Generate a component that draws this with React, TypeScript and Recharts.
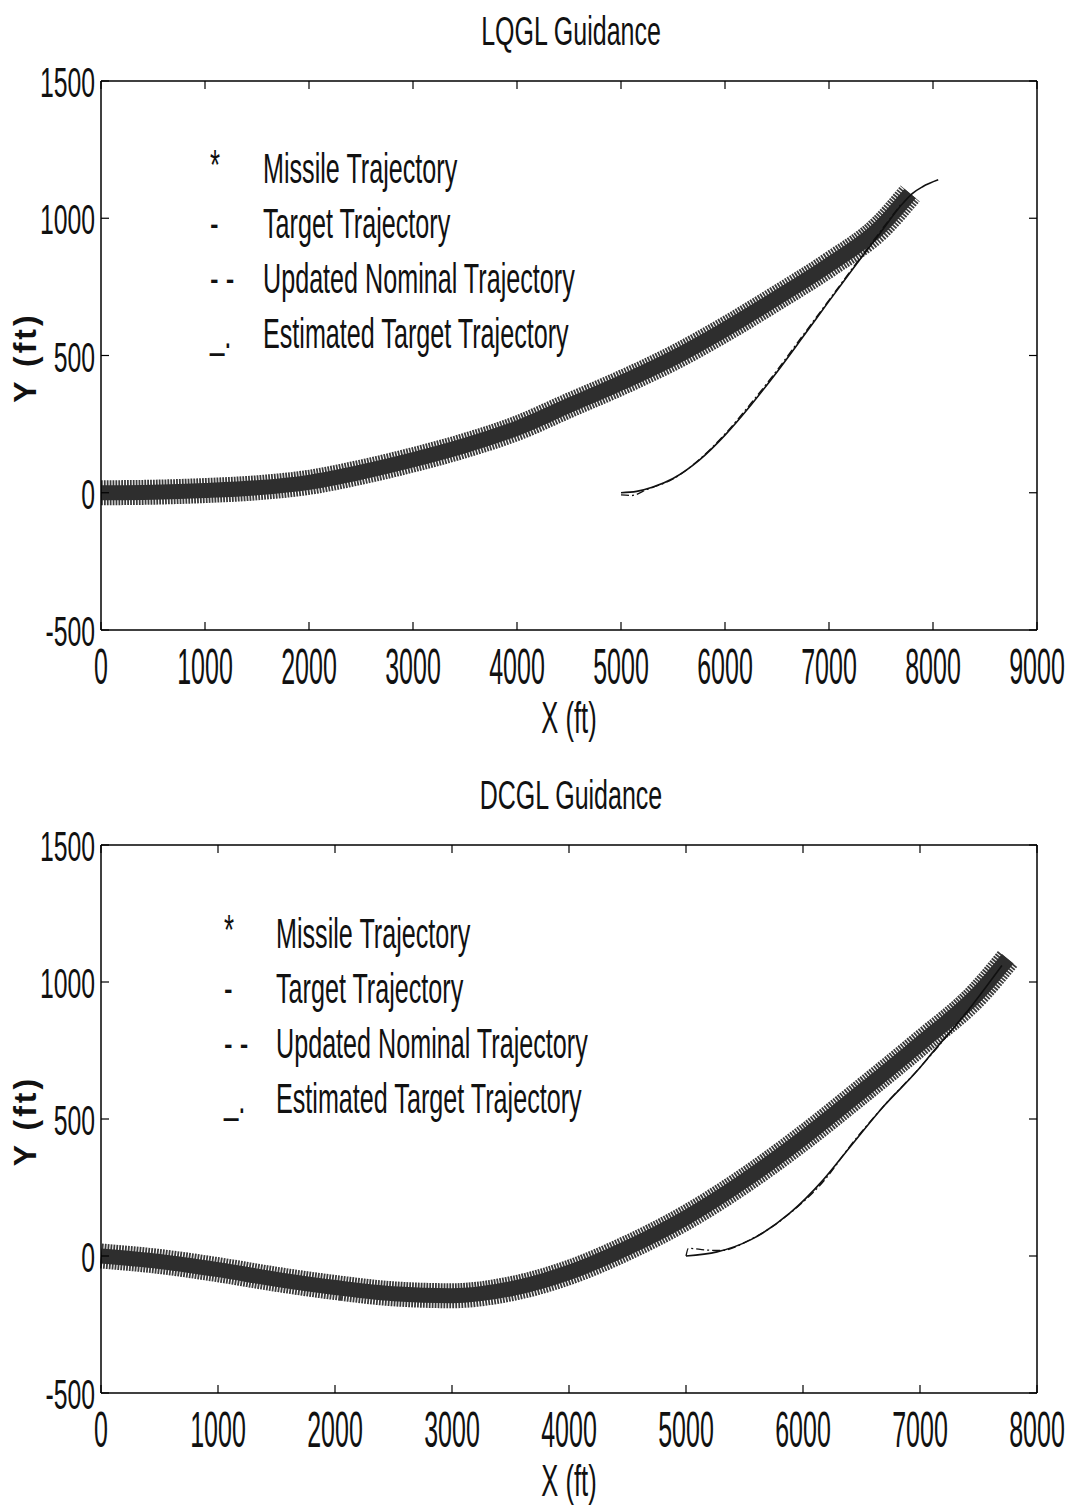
import React from "react";
import { ComposedChart, Line, XAxis, YAxis, Legend } from "recharts";

const FONT = "'Liberation Sans', Arial, Helvetica, sans-serif";

// LQGL (top) chart
const lqglXTicks = [0, 1000, 2000, 3000, 4000, 5000, 6000, 7000, 8000, 9000];
const lqglMissile = [
  { x: 0, y: 0 }, { x: 500, y: 2 }, { x: 1000, y: 8 }, { x: 1500, y: 18 },
  { x: 2000, y: 38 }, { x: 2500, y: 75 }, { x: 3000, y: 120 }, { x: 3500, y: 172 },
  { x: 4000, y: 235 }, { x: 4500, y: 318 }, { x: 5000, y: 400 }, { x: 5500, y: 490 },
  { x: 6000, y: 595 }, { x: 6500, y: 710 }, { x: 7000, y: 830 }, { x: 7500, y: 970 },
  { x: 7780, y: 1090 },
];
const lqglTarget = [
  { x: 5000, y: 0 }, { x: 5150, y: 5 }, { x: 5300, y: 20 }, { x: 5500, y: 52 },
  { x: 5750, y: 118 }, { x: 6000, y: 210 }, { x: 6250, y: 320 }, { x: 6500, y: 440 },
  { x: 6750, y: 568 }, { x: 7000, y: 698 }, { x: 7250, y: 826 }, { x: 7500, y: 950 },
  { x: 7700, y: 1050 }, { x: 7800, y: 1090 }, { x: 7900, y: 1115 }, { x: 8050, y: 1140 },
];
const lqglEstimated = [
  { x: 5000, y: -8 }, { x: 5100, y: -10 }, { x: 5250, y: 12 }, { x: 5500, y: 50 },
  { x: 5750, y: 120 }, { x: 6000, y: 214 }, { x: 6250, y: 326 }, { x: 6500, y: 446 },
  { x: 6750, y: 574 }, { x: 7000, y: 702 }, { x: 7250, y: 830 }, { x: 7500, y: 955 },
  { x: 7700, y: 1055 },
];

// DCGL (bottom) chart
const dcglXTicks = [0, 1000, 2000, 3000, 4000, 5000, 6000, 7000, 8000];
const dcglMissile = [
  { x: 0, y: 0 }, { x: 500, y: -20 }, { x: 1000, y: -50 }, { x: 1500, y: -85 },
  { x: 2000, y: -115 }, { x: 2500, y: -138 }, { x: 3000, y: -145 }, { x: 3500, y: -120 },
  { x: 4000, y: -60 }, { x: 4500, y: 30 }, { x: 5000, y: 140 }, { x: 5500, y: 275 },
  { x: 6000, y: 430 }, { x: 6500, y: 600 }, { x: 7000, y: 775 }, { x: 7500, y: 960 },
  { x: 7750, y: 1085 },
];
const dcglTarget = [
  { x: 5000, y: 0 }, { x: 5265, y: 15 }, { x: 5547, y: 58 }, { x: 5889, y: 157 },
  { x: 6171, y: 277 }, { x: 6402, y: 398 }, { x: 6684, y: 544 }, { x: 6974, y: 675 },
  { x: 7111, y: 745 }, { x: 7400, y: 890 }, { x: 7700, y: 1060 },
];
const dcglEstimated = [
  { x: 5000, y: 0 }, { x: 5020, y: 28 }, { x: 5170, y: 22 }, { x: 5300, y: 20 },
  { x: 5550, y: 60 }, { x: 5900, y: 160 }, { x: 6200, y: 285 }, { x: 6400, y: 400 },
  { x: 6700, y: 552 }, { x: 7000, y: 688 }, { x: 7150, y: 762 }, { x: 7400, y: 892 },
];

const yTicks = [-500, 0, 500, 1000, 1500];

const legendItems = [
  { symbol: "*", label: "Missile Trajectory" },
  { symbol: "-", label: "Target Trajectory" },
  { symbol: "- -", label: "Updated Nominal Trajectory" },
  { symbol: "_.", label: "Estimated Target Trajectory" },
];

function NarrowText({ x, y, size, sx, anchor = "start", children }: any) {
  return (
    <text
      transform={`translate(${x} ${y}) scale(${sx} 1)`}
      fontSize={size}
      textAnchor={anchor}
      fontFamily={FONT}
      fill="#111"
    >
      {children}
    </text>
  );
}

const BottomTick = ({ x, y, payload }: any) => (
  <g>
    <line x1={x} y1={y} x2={x} y2={y - 8} stroke="#000" strokeWidth={1.2} />
    <NarrowText x={x} y={y + 54} size={50} sx={0.5} anchor="middle">
      {payload.value}
    </NarrowText>
  </g>
);
const TopTick = ({ x, y }: any) => (
  <line x1={x} y1={y} x2={x} y2={y + 8} stroke="#000" strokeWidth={1.2} />
);
const LeftTick = ({ x, y, payload }: any) => (
  <g>
    <line x1={x} y1={y} x2={x + 8} y2={y} stroke="#000" strokeWidth={1.2} />
    <NarrowText x={x - 6} y={y + 16} size={42} sx={0.59} anchor="end">
      {payload.value}
    </NarrowText>
  </g>
);
const RightTick = ({ x, y }: any) => (
  <line x1={x} y1={y} x2={x - 8} y2={y} stroke="#000" strokeWidth={1.2} />
);

function LegendBox({ symX, textX }: { symX: number; textX: number }) {
  return (
    <svg width={430} height={230}>
      {legendItems.map((it, i) => (
        <g key={it.label}>
          <NarrowText x={symX} y={43 + i * 55 + (it.symbol === "*" ? -4 : 0)} size={43} sx={0.6}>
            {it.symbol}
          </NarrowText>
          <NarrowText x={textX} y={43 + i * 55} size={43} sx={0.585}>
            {it.label}
          </NarrowText>
        </g>
      ))}
    </svg>
  );
}

type PanelProps = {
  title: string;
  xMax: number;
  xTicks: number[];
  missile: { x: number; y: number }[];
  target: { x: number; y: number }[];
  estimated: { x: number; y: number }[];
  height: number;
  marginTop: number;
  marginBottom: number;
  symX: number;
  textX: number;
};

function Panel(p: PanelProps) {
  return (
    <ComposedChart
      width={1074}
      height={p.height}
      margin={{ top: p.marginTop - 1, right: 36, bottom: p.marginBottom, left: 41 }}
    >
      <XAxis
        dataKey="x"
        type="number"
        domain={[0, p.xMax]}
        ticks={p.xTicks}
        interval={0}
        height={70}
        tickSize={0}
        tickMargin={0}
        tickLine={false}
        axisLine={{ stroke: "#000", strokeWidth: 1.5 }}
        tick={<BottomTick />}
        label={(props: any) => {
          const vb = props.viewBox;
          return (
            <NarrowText x={vb.x + vb.width / 2} y={vb.y + 103} size={44} sx={0.58} anchor="middle">
              X (ft)
            </NarrowText>
          );
        }}
      />
      <XAxis
        xAxisId="top"
        orientation="top"
        dataKey="x"
        type="number"
        domain={[0, p.xMax]}
        ticks={p.xTicks}
        interval={0}
        height={1}
        tickSize={0}
        tickMargin={0}
        tickLine={false}
        axisLine={{ stroke: "#000", strokeWidth: 1.5 }}
        tick={<TopTick />}
        label={(props: any) => {
          const vb = props.viewBox;
          return (
            <NarrowText x={vb.x + vb.width / 2 + 2} y={vb.y - 35} size={41} sx={0.61} anchor="middle">
              {p.title}
            </NarrowText>
          );
        }}
      />
      <YAxis
        type="number"
        domain={[-500, 1500]}
        ticks={yTicks}
        interval={0}
        width={60}
        tickSize={0}
        tickMargin={0}
        tickLine={false}
        axisLine={{ stroke: "#000", strokeWidth: 1.5 }}
        tick={<LeftTick />}
        label={(props: any) => {
          const vb = props.viewBox;
          const cy = vb.y + vb.height / 2 + 2;
          return (
            <text
              transform={`translate(36 ${cy}) rotate(-90)`}
              fontSize={32}
              fontWeight="bold"
              fontFamily={FONT}
              textAnchor="middle"
              letterSpacing={3}
              fill="#111"
            >
              Y (ft)
            </text>
          );
        }}
      />
      <YAxis
        yAxisId="right"
        orientation="right"
        type="number"
        domain={[-500, 1500]}
        ticks={yTicks}
        interval={0}
        width={1}
        tickSize={0}
        tickMargin={0}
        tickLine={false}
        axisLine={{ stroke: "#000", strokeWidth: 1.5 }}
        tick={<RightTick />}
      />
      <Legend
        layout="vertical"
        align="center"
        verticalAlign="middle"
        wrapperStyle={{ left: 200, top: 140, width: 430 }}
        content={() => <LegendBox symX={p.symX} textX={p.textX} />}
      />
      {/* missile markers: hatched band with dark core */}
      <Line
        data={p.missile}
        dataKey="y"
        type="monotone"
        dot={false}
        stroke="#3a3a3a"
        strokeWidth={25}
        strokeDasharray="1.8 1.1"
        isAnimationActive={false}
        legendType="none"
      />
      <Line
        data={p.missile}
        dataKey="y"
        type="monotone"
        dot={false}
        stroke="#2e2e2e"
        strokeWidth={15}
        isAnimationActive={false}
        legendType="none"
      />
      <Line
        data={p.estimated}
        xAxisId="top"
        yAxisId="right"
        dataKey="y"
        type="monotone"
        dot={false}
        stroke="#111"
        strokeWidth={1.3}
        strokeDasharray="8 3 2 3"
        isAnimationActive={false}
        legendType="none"
      />
      <Line
        data={p.target}
        dataKey="y"
        type="monotone"
        dot={false}
        stroke="#111"
        strokeWidth={1.6}
        isAnimationActive={false}
        legendType="none"
      />
    </ComposedChart>
  );
}

export default function App() {
  return (
    <div style={{ position: "absolute", left: 0, top: 0, width: 1074, height: 1505, background: "#fff" }}>
      <div style={{ position: "absolute", left: 0, top: 0 }}>
        <Panel
          title="LQGL Guidance"
          xMax={9000}
          xTicks={lqglXTicks}
          missile={lqglMissile}
          target={lqglTarget}
          estimated={lqglEstimated}
          height={760}
          marginTop={81}
          marginBottom={60}
          symX={10}
          textX={63}
        />
      </div>
      <div style={{ position: "absolute", left: 0, top: 765 }}>
        <Panel
          title="DCGL Guidance"
          xMax={8000}
          xTicks={dcglXTicks}
          missile={dcglMissile}
          target={dcglTarget}
          estimated={dcglEstimated}
          height={740}
          marginTop={80}
          marginBottom={42}
          symX={24}
          textX={76}
        />
      </div>
    </div>
  );
}
